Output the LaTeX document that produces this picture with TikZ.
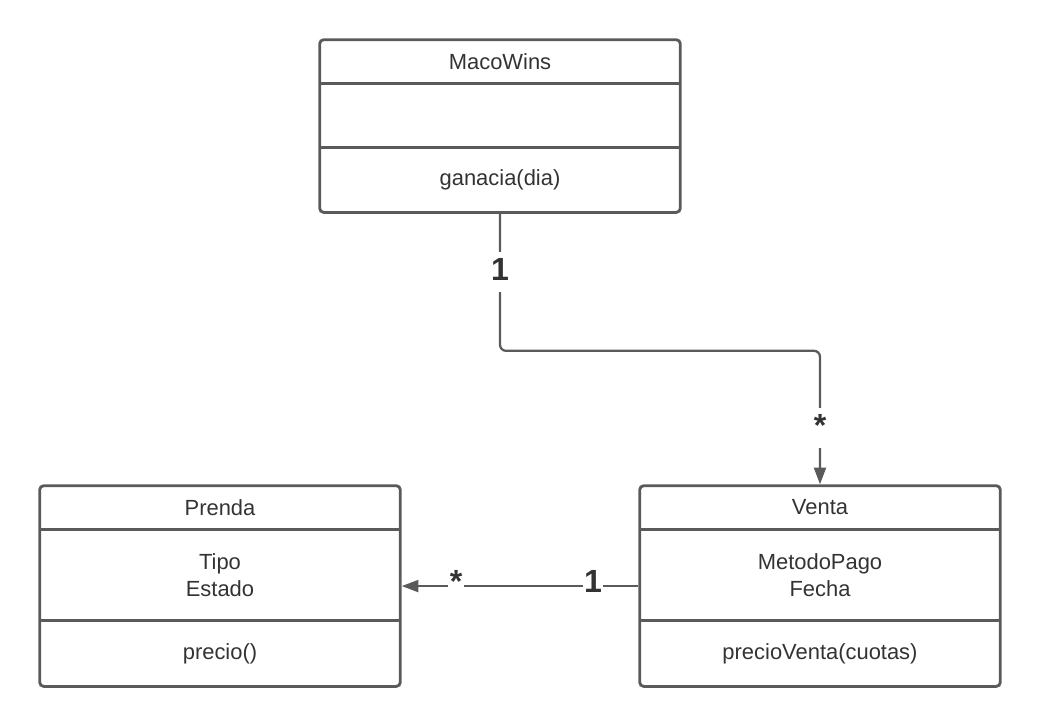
\documentclass[tikz,border=0pt]{standalone}
\usepackage{fontspec}
\setmainfont{Liberation Sans}
\usepackage{xcolor}
\usetikzlibrary{arrows.meta,positioning,fit}
\definecolor{edge}{HTML}{5A5A5A}
\definecolor{ink}{HTML}{333333}

\begin{document}
\begin{tikzpicture}[
  font=\fontsize{15.6}{18.7}\selectfont,
  text=ink,
  >={Triangle[length=4.2mm,width=3mm]},
  part/.style={inner sep=0pt, minimum width=9cm, align=center},
  cls/.style={draw=edge, line width=2pt, rounded corners=1mm, inner sep=0pt},
  sep/.style={draw=edge, line width=2pt},
  arr/.style={->, draw=edge, line width=1.6pt, rounded corners=1.5mm},
  mult/.style={font=\fontsize{22.8}{27}\selectfont\bfseries, fill=white,
               inner xsep=1pt, inner ysep=2pt, text height=18.2pt,
               text depth=6.8pt, anchor=base}
]
\useasboundingbox (0,0) rectangle (26,-18.125);

% ---- MacoWins ----
\node[part, minimum height=1.075cm] (mwh) at (12.5,-1.5375) {MacoWins};
\node[part, minimum height=1.6cm, below=0pt of mwh] (mwa) {};
\node[part, minimum height=1.6cm, below=0pt of mwa] (mwo) {ganacia(dia)};
\node[cls, fit=(mwh)(mwo)] (mw) {};
\draw[sep] (mwh.south west) -- (mwh.south east);
\draw[sep] (mwa.south west) -- (mwa.south east);

% ---- Prenda ----
\node[part, minimum height=1.075cm] (prh) at (5.5,-12.6875) {Prenda};
\node[part, minimum height=2.275cm, below=0pt of prh] (pra) {Tipo\\Estado};
\node[part, minimum height=1.625cm, below=0pt of pra] (pro) {precio()};
\node[cls, fit=(prh)(pro)] (pr) {};
\draw[sep] (prh.south west) -- (prh.south east);
\draw[sep] (pra.south west) -- (pra.south east);

% ---- Venta ----
\node[part, minimum height=1.075cm] (veh) at (20.5,-12.6875) {Venta};
\node[part, minimum height=2.275cm, below=0pt of veh] (vea) {MetodoPago\\Fecha};
\node[part, minimum height=1.625cm, below=0pt of vea] (veo) {precioVenta(cuotas)};
\node[cls, fit=(veh)(veo)] (ve) {};
\draw[sep] (veh.south west) -- (veh.south east);
\draw[sep] (vea.south west) -- (vea.south east);

% ---- associations ----
\draw[arr] (mw.south) -- ++(0,-3.425) -| (ve.north);
\draw[arr] (ve.west) -- (pr.east);

% ---- multiplicities ----
\node[mult] (m1) at (12.5,-7.0) {1};
\node[mult] (m2) at (20.5,-10.9) {*};
\node[mult] (m3) at (14.825,-14.82) {1};
\node[mult] (m4) at (11.4,-14.82) {*};
\end{tikzpicture}
\end{document}
